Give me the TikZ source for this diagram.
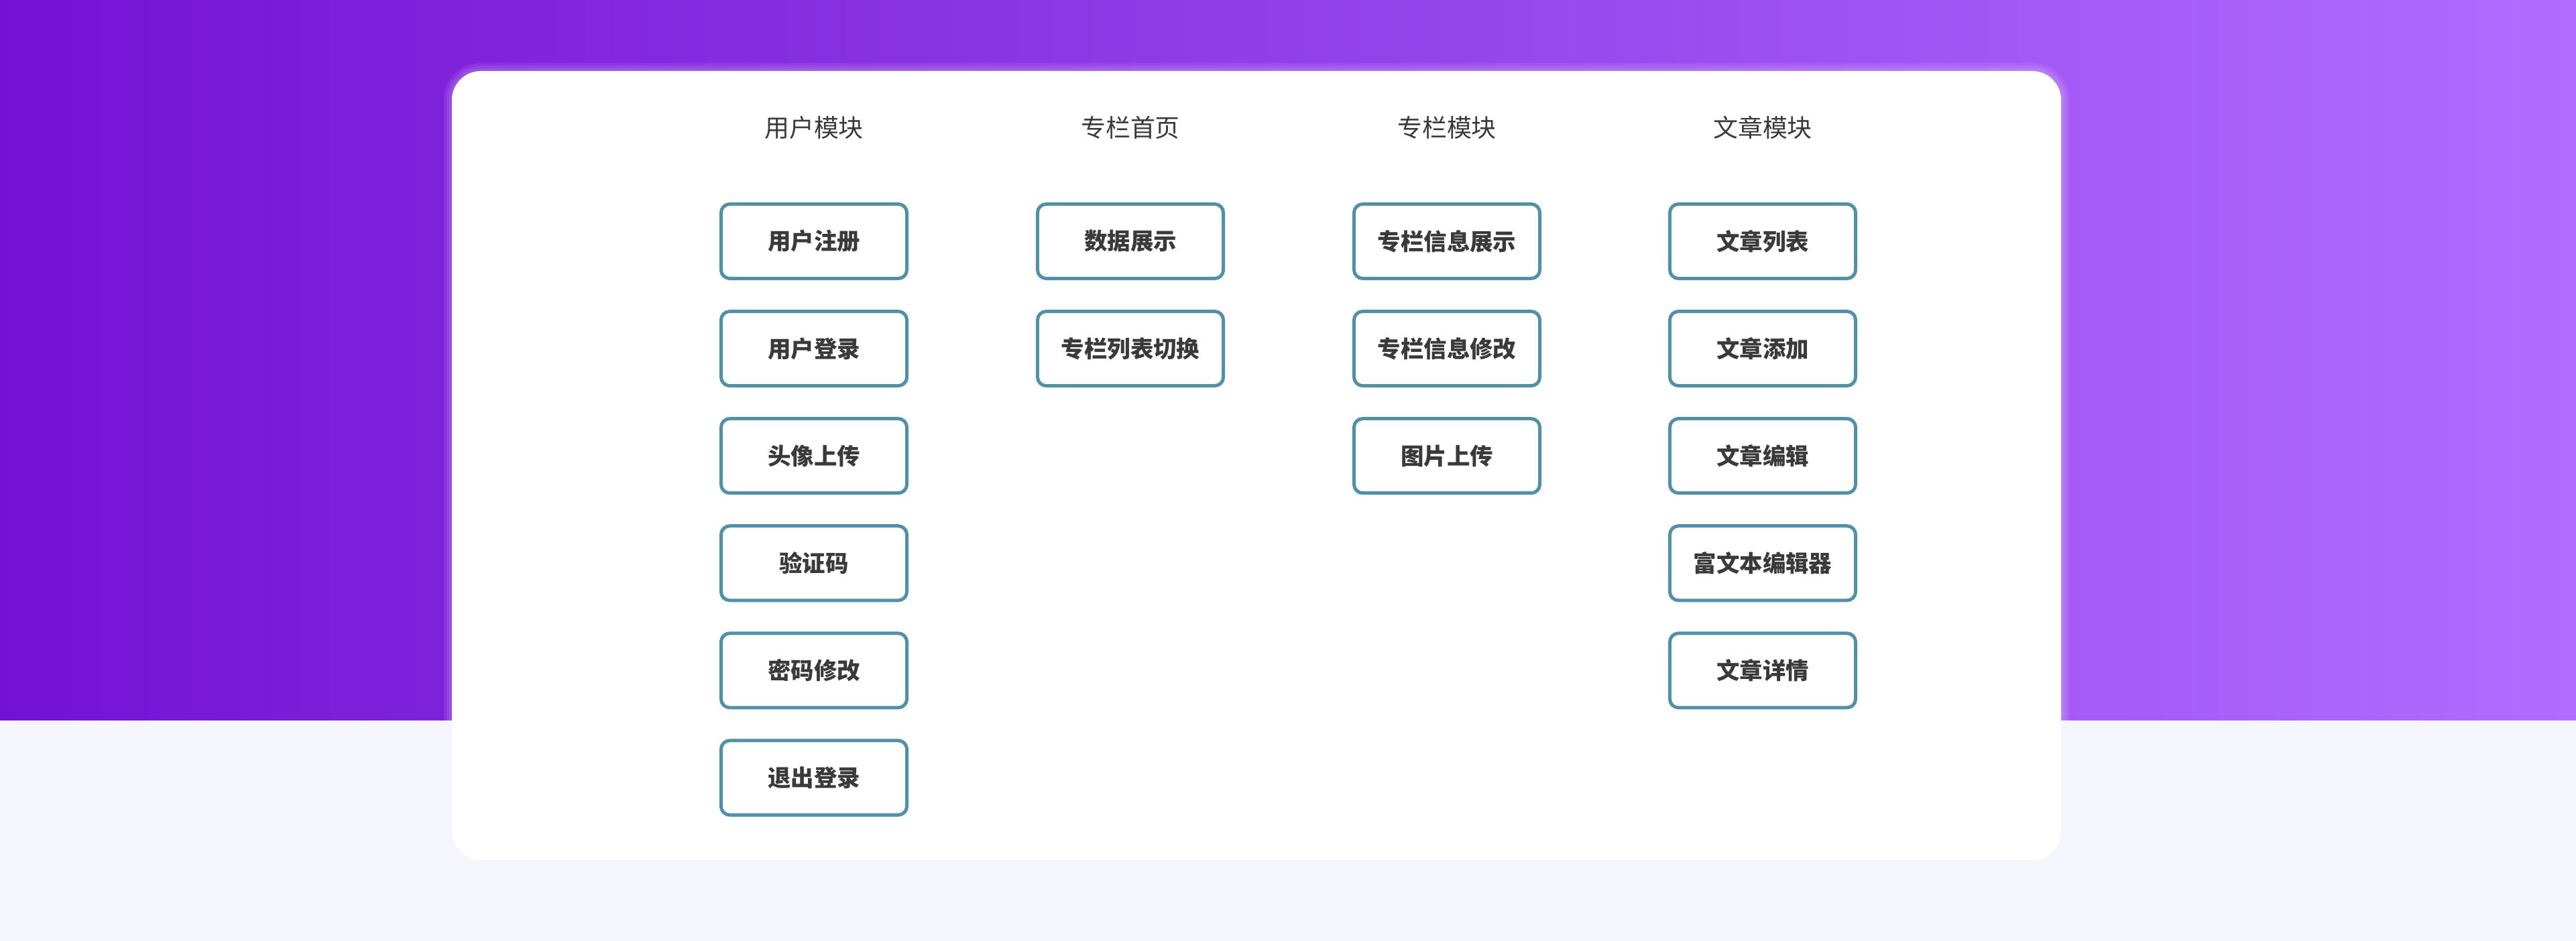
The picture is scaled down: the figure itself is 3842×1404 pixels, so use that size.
\documentclass[tikz,border=0pt]{standalone}
\usepackage{fontspec}
\newfontfamily\cjk{Noto Sans CJK SC}
\usetikzlibrary{positioning,calc}

\definecolor{bandleft}{HTML}{7412D4}
\definecolor{bandright}{HTML}{B06CFF}
\definecolor{pagebg}{HTML}{F5F5FD}
\definecolor{boxline}{HTML}{5290A8}
\definecolor{inktext}{HTML}{3A3A3A}

\begin{document}
\begin{tikzpicture}[x=0.01cm, y=-0.01cm,
    header/.style={font=\cjk\fontsize{10.5}{12}\selectfont, text=inktext},
    item/.style={draw=boxline, line width=0.05cm, rounded corners=0.13cm,
        fill=white, minimum width=2.77cm, minimum height=1.11cm,
        font=\cjk\bfseries\fontsize{9.8}{12}\selectfont, text=inktext}]
    \useasboundingbox (0,0) rectangle (3842,1404);

    % background band and page
    \shade[left color=bandleft, right color=bandright] (0,0) rectangle (3842,1075);
    \fill[pagebg] (0,1075) rectangle (3842,1404);

    % card with soft glow
    \coordinate (CardNW) at (674,106);
    \coordinate (CardSE) at (3074,1283);
    \foreach \g in {12,8,4}
        \fill[white, opacity=0.08, rounded corners=0.43cm+\g*0.01cm]
            ($(CardNW)+(-\g,-\g)$) rectangle ($(CardSE)+(\g,\g)$);
    \fill[white, rounded corners=0.43cm] (CardNW) rectangle (CardSE);

    % column headers
    \node[header] (user) at (1214,190) {用户模块};
    \node[header] (home) at (1686,190) {专栏首页};
    \node[header] (column) at (2158,190) {专栏模块};
    \node[header] (article) at (2629,190) {文章模块};

    % user module
    \node[item] (reg) at (1214,360) {用户注册};
    \node[item, below=0.44cm of reg] (login) {用户登录};
    \node[item, below=0.44cm of login] (avatar) {头像上传};
    \node[item, below=0.44cm of avatar] (captcha) {验证码};
    \node[item, below=0.44cm of captcha] (pwd) {密码修改};
    \node[item, below=0.44cm of pwd] (logout) {退出登录};

    % column home
    \node[item] (stats) at (1686,360) {数据展示};
    \node[item, below=0.44cm of stats] (switch) {专栏列表切换};

    % column module
    \node[item] (colinfo) at (2158,360) {专栏信息展示};
    \node[item, below=0.44cm of colinfo] (coledit) {专栏信息修改};
    \node[item, below=0.44cm of coledit] (imgup) {图片上传};

    % article module
    \node[item] (artlist) at (2629,360) {文章列表};
    \node[item, below=0.44cm of artlist] (artadd) {文章添加};
    \node[item, below=0.44cm of artadd] (artedit) {文章编辑};
    \node[item, below=0.44cm of artedit] (richtext) {富文本编辑器};
    \node[item, below=0.44cm of richtext] (artdetail) {文章详情};
\end{tikzpicture}
\end{document}
